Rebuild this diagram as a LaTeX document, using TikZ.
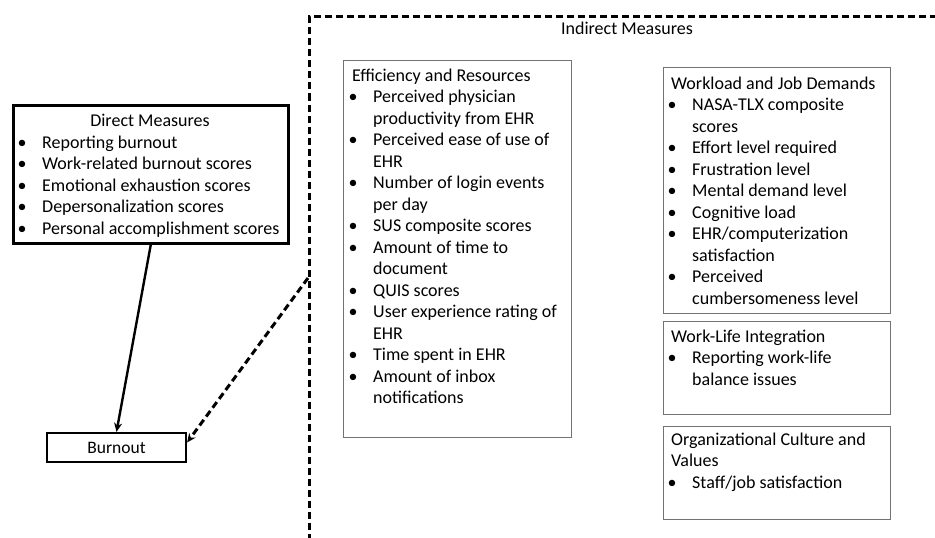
\documentclass[tikz,border=0pt]{standalone}
\usepackage{fontspec}
\setmainfont{Carlito}
\usetikzlibrary{arrows.meta}
\newcommand{\bl}{\makebox[10pt][c]{•}\hspace*{15pt}}
\newcommand{\ind}{\hspace*{25pt}}
\newcommand{\hd}{\hspace*{4pt}}
\begin{document}
\begin{tikzpicture}[x=1pt,y=-1pt,
  body/.style={font=\fontsize{18}{21.5}\selectfont, text=black},
  txt/.style={body, inner sep=0pt, align=left, anchor=north west},
  grp/.style={draw=black!55, line width=0.9pt, anchor=north west, inner sep=0pt},
  heavy/.style={draw=black, line width=2.6pt, anchor=north west, inner sep=0pt},
  dsh/.style={line width=3pt, dash pattern=on 7pt off 4pt},
  tip/.style={-{Stealth[length=9pt,width=8pt]}}]
\useasboundingbox (0,0) rectangle (935,538);
\begin{scope}
\clip (0,0) rectangle (935,538);
\node[draw, dsh, anchor=north west, inner sep=0pt, minimum width=640pt, minimum height=524pt] (indirect) at (308,15) {};
\end{scope}
\node[body, inner sep=0pt] (ititle) at (627,28.5) {Indirect Measures};

% Efficiency and Resources
\node[grp, minimum width=228pt, minimum height=377pt] (eff) at (343,60) {};
\node[txt] (efftxt) at (348,68.4) {\hd Efficiency and Resources\\
\bl Perceived physician\\
\ind productivity from EHR\\
\bl Perceived ease of use of\\
\ind EHR\\
\bl Number of login events\\
\ind per day\\
\bl SUS composite scores\\
\bl Amount of time to\\
\ind document\\
\bl QUIS scores\\
\bl User experience rating of\\
\ind EHR\\
\bl Time spent in EHR\\
\bl Amount of inbox\\
\ind notifications};

% Workload and Job Demands
\node[grp, minimum width=227pt, minimum height=246pt] (work) at (663,67) {};
\node[txt] (worktxt) at (667,76.4) {\hd Workload and Job Demands\\
\bl NASA-TLX composite\\
\ind scores\\
\bl Effort level required\\
\bl Frustration level\\
\bl Mental demand level\\
\bl Cognitive load\\
\bl EHR/computerization\\
\ind satisfaction\\
\bl Perceived\\
\ind cumbersomeness level};

% Work-Life Integration
\node[grp, minimum width=227pt, minimum height=93pt] (wli) at (663,321) {};
\node[txt] (wlitxt) at (667,329.4) {\hd Work-Life Integration\\
\bl Reporting work-life\\
\ind balance issues};

% Organizational Culture and Values
\node[grp, minimum width=227pt, minimum height=93pt] (org) at (663,426) {};
\node[txt] (orgtxt) at (667,432.4) {\hd Organizational Culture and\\
\hd Values\\
\bl Staff/job satisfaction};

% Direct Measures
\node[heavy, minimum width=275pt, minimum height=138pt] (direct) at (12,104) {};
\node[body, inner sep=0pt, anchor=base] (dtitle) at (150,126.5) {Direct Measures};
\node[txt] (dtxt) at (17,135.5) {\bl Reporting burnout\\
\bl Work-related burnout scores\\
\bl Emotional exhaustion scores\\
\bl Depersonalization scores\\
\bl Personal accomplishment scores};

% Burnout
\node[draw=black, line width=2.2pt, inner sep=0pt, minimum width=139pt, minimum height=29pt, font=\fontsize{17.5}{21}\selectfont, text=black] (burnout) at (116.5,447.5) {Burnout};

% Connectors
\coordinate (dstart) at (308,278);
\draw[line width=2.4pt, tip] (direct.south) -- (burnout.north);
\draw[dsh, tip] (dstart) -- ([yshift=5pt]burnout.east);
\end{tikzpicture}
\end{document}
